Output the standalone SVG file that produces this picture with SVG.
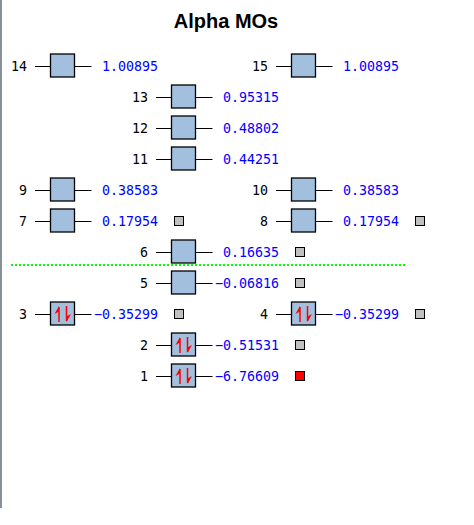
<svg xmlns="http://www.w3.org/2000/svg" xmlns:xlink="http://www.w3.org/1999/xlink" width="474" height="525" viewBox="0 0 474 525">
<style>
.lbl{font-family:"DejaVu Sans Mono","Liberation Mono",monospace;font-size:13.3px;fill:#000;text-anchor:end}
.val{font-family:"DejaVu Sans Mono","Liberation Mono",monospace;font-size:13.3px;fill:#0000ff;text-anchor:end}
.ln{stroke:#000;stroke-width:1}
.box{fill:#a2c0de;stroke:#000;stroke-width:1.3}
.sq{fill:#c0c0c0;stroke:#000;stroke-width:1}
.sqr{fill:#ff0000;stroke:#000;stroke-width:1}
.arr{stroke:#ff0000;stroke-width:1.5;fill:none}
.ah{fill:#ff0000}
.title{font-family:"Liberation Sans",Arial,sans-serif;font-size:20px;font-weight:bold;fill:#000;text-anchor:middle}
</style>
<defs>
<g id="lvl">
<line class="ln" x1="-15.5" y1="0.5" x2="0" y2="0.5"/>
<line class="ln" x1="24" y1="0.5" x2="41" y2="0.5"/>
<rect class="box" x="0" y="-12" width="24" height="23"/>
</g>
<g id="pair">
<line class="arr" x1="8.5" y1="8" x2="8.5" y2="-7"/>
<polygon class="ah" points="8.5,-8 4,0 8.5,-2.5"/>
<line class="arr" x1="16" y1="-8" x2="16" y2="7"/>
<polygon class="ah" points="16,8 20.5,0 16,2.5"/>
</g>
</defs>
<rect width="474" height="525" fill="#fff"/>
<rect x="0" y="0" width="2" height="508" fill="#8a9099"/>
<text class="title" x="226" y="28">Alpha MOs</text>
<g id="connectors">
<line x1="11" y1="265" x2="406" y2="265" stroke="#00ff00" stroke-width="2" stroke-dasharray="2 2"/>
</g>
<g id="mo14" transform="translate(50.5,66)"><use xlink:href="#lvl"/><text class="lbl" x="-23.5" y="4.5">14</text><text class="val" x="107.5" y="4.5">1.00895</text></g>
<g id="mo15" transform="translate(291.5,66)"><use xlink:href="#lvl"/><text class="lbl" x="-23.5" y="4.5">15</text><text class="val" x="107.5" y="4.5">1.00895</text></g>
<g id="mo13" transform="translate(171.5,97)"><use xlink:href="#lvl"/><text class="lbl" x="-23.5" y="4.5">13</text><text class="val" x="107.5" y="4.5">0.95315</text></g>
<g id="mo12" transform="translate(171.5,128)"><use xlink:href="#lvl"/><text class="lbl" x="-23.5" y="4.5">12</text><text class="val" x="107.5" y="4.5">0.48802</text></g>
<g id="mo11" transform="translate(171.5,159)"><use xlink:href="#lvl"/><text class="lbl" x="-23.5" y="4.5">11</text><text class="val" x="107.5" y="4.5">0.44251</text></g>
<g id="mo9" transform="translate(50.5,190)"><use xlink:href="#lvl"/><text class="lbl" x="-23.5" y="4.5">9</text><text class="val" x="107.5" y="4.5">0.38583</text></g>
<g id="mo10" transform="translate(291.5,190)"><use xlink:href="#lvl"/><text class="lbl" x="-23.5" y="4.5">10</text><text class="val" x="107.5" y="4.5">0.38583</text></g>
<g id="mo7" transform="translate(50.5,221)"><use xlink:href="#lvl"/><text class="lbl" x="-23.5" y="4.5">7</text><text class="val" x="107.5" y="4.5">0.17954</text><rect class="sq" x="124" y="-4.5" width="9" height="9"/></g>
<g id="mo8" transform="translate(291.5,221)"><use xlink:href="#lvl"/><text class="lbl" x="-23.5" y="4.5">8</text><text class="val" x="107.5" y="4.5">0.17954</text><rect class="sq" x="124" y="-4.5" width="9" height="9"/></g>
<g id="mo6" transform="translate(171.5,252)"><use xlink:href="#lvl"/><text class="lbl" x="-23.5" y="4.5">6</text><text class="val" x="107.5" y="4.5">0.16635</text><rect class="sq" x="124" y="-4.5" width="9" height="9"/></g>
<g id="mo5" transform="translate(171.5,283)"><use xlink:href="#lvl"/><text class="lbl" x="-23.5" y="4.5">5</text><text class="val" x="107.5" y="4.5">−0.06816</text><rect class="sq" x="124" y="-4.5" width="9" height="9"/></g>
<g id="mo3" transform="translate(50.5,314)"><use xlink:href="#lvl"/><use xlink:href="#pair"/><text class="lbl" x="-23.5" y="4.5">3</text><text class="val" x="107.5" y="4.5">−0.35299</text><rect class="sq" x="124" y="-4.5" width="9" height="9"/></g>
<g id="mo4" transform="translate(291.5,314)"><use xlink:href="#lvl"/><use xlink:href="#pair"/><text class="lbl" x="-23.5" y="4.5">4</text><text class="val" x="107.5" y="4.5">−0.35299</text><rect class="sq" x="124" y="-4.5" width="9" height="9"/></g>
<g id="mo2" transform="translate(171.5,345)"><use xlink:href="#lvl"/><use xlink:href="#pair"/><text class="lbl" x="-23.5" y="4.5">2</text><text class="val" x="107.5" y="4.5">−0.51531</text><rect class="sq" x="124" y="-4.5" width="9" height="9"/></g>
<g id="mo1" transform="translate(171.5,376)"><use xlink:href="#lvl"/><use xlink:href="#pair"/><text class="lbl" x="-23.5" y="4.5">1</text><text class="val" x="107.5" y="4.5">−6.76609</text><rect class="sqr" x="124" y="-4.5" width="9" height="9"/></g>
</svg>
